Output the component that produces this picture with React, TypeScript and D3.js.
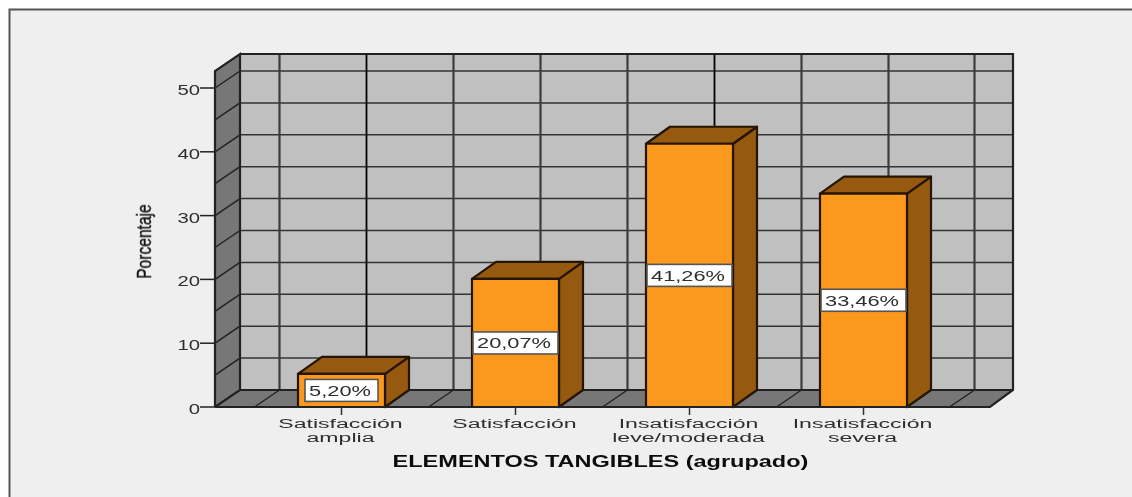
import React from "react";
import * as d3 from "d3";

const categories = [
  ["Satisfacción", "amplia"],
  ["Satisfacción"],
  ["Insatisfacción", "leve/moderada"],
  ["Insatisfacción", "severa"],
];
const values = [5.2, 20.07, 41.26, 33.46];
const valueLabels = ["5,20%", "20,07%", "41,26%", "33,46%"];
const yTicks = [0, 10, 20, 30, 40, 50];
const yGrid = [0, 5, 10, 15, 20, 25, 30, 35, 40, 45, 50];
const xTitle = "ELEMENTOS TANGIBLES (agrupado)";
const yTitle = "Porcentaje";

const W = 1132, H = 497;
const DX = 25, DY = 17;
const left = 215, right = 990, bottom = 407, backRight = 1013;
const FONT = "'Liberation Sans', Arial, sans-serif";

const y = d3.scaleLinear().domain([0, 50]).range([bottom, 88]);
const yTopValue = y.invert(71);
const top = y(yTopValue);
const x = d3.scaleBand<number>().domain(d3.range(categories.length)).range([left, right]).paddingInner(0.5).paddingOuter(0.477);
const bw = x.bandwidth();
const center = (i: number) => (x(i) as number) + bw / 2;

const pts = (p: number[][]) => p.map((q) => q.join(",")).join(" ");

const WALL = "#c0c0c0", SIDE = "#777777", BG = "#efefef", BAR = "#fa991e", BAR_D = "#955a10", TXT = "#2e2e2e";

const gridX: { px: number; major: boolean }[] = [];
categories.forEach((_, i) => {
  gridX.push({ px: center(i) + DX - bw, major: false });
  gridX.push({ px: center(i) + DX, major: i % 2 === 0 });
});
gridX.push({ px: center(categories.length - 1) + DX + bw - 1, major: false });

function Stretched({ tx, ty, sx, size, weight, fill, anchor, children }: any) {
  return (
    <text transform={`translate(${tx},${ty}) scale(${sx},1)`} textAnchor={anchor || "middle"} fontFamily={FONT} fontSize={size} fontWeight={weight} fill={fill}>
      {children}
    </text>
  );
}

export default function App() {
  return (
    <svg width={W} height={H} viewBox={`0 0 ${W} ${H}`} style={{ position: "absolute", left: 0, top: 0, display: "block" }}>
      <rect width={W} height={H} fill="#ffffff" />
      <rect x={9} y={9} width={W} height={H} fill={BG} />
      <path d={`M9.5,${H}V9.5H${W}`} fill="none" stroke="#555" strokeWidth={2} />
      <g style={{ filter: "blur(0.55px)" }}>
        {/* back wall */}
        <rect x={left + DX} y={top - DY} width={backRight - left - DX} height={bottom - top} fill={WALL} />
        {/* side wall */}
        <polygon points={pts([[left, bottom], [left, top], [left + DX, top - DY], [left + DX, bottom - DY]])} fill={SIDE} />
        {/* floor */}
        <polygon points={pts([[left, bottom], [right, bottom], [backRight, bottom - DY], [left + DX, bottom - DY]])} fill={SIDE} />

        {yGrid.map((v) => (
          <g key={v} stroke="#333" strokeWidth={1.5}>
            <line x1={left + DX} x2={backRight} y1={y(v) - DY} y2={y(v) - DY} />
            <line x1={left} x2={left + DX} y1={y(v)} y2={y(v) - DY} stroke="#222" />
          </g>
        ))}
        {gridX.map((g, i) => (
          <g key={i}>
            <line x1={g.px} x2={g.px} y1={top - DY} y2={bottom - DY} stroke={g.major ? "#000" : "#3c3c3c"} strokeWidth={g.major ? 1.8 : 2.2} />
            <line x1={g.px} x2={g.px - DX} y1={bottom - DY} y2={bottom} stroke="#222" strokeWidth={1.4} />
          </g>
        ))}
        {/* wall outlines */}
        <path d={`M${left},${bottom}V${top}L${left + DX},${top - DY}V${bottom - DY}L${left},${bottom}`} fill="none" stroke="#222" strokeWidth={2.2} />
        <path d={`M${left + DX},${top - DY}H${backRight}V${bottom - DY}L${right},${bottom}H${left}M${left + DX},${bottom - DY}H${backRight}`} fill="none" stroke="#222" strokeWidth={2.2} />

        {/* y axis */}
        {yTicks.map((t) => (
          <g key={t}>
            <line x1={left - 15} x2={left} y1={y(t)} y2={y(t)} stroke="#222" strokeWidth={1.5} />
            <Stretched tx={left - 15} ty={y(t) + 7} sx={1.45} size={14} fill={TXT} anchor="end">{t}</Stretched>
          </g>
        ))}
        <text transform={`translate(151,241.5) rotate(-90) scale(0.78,1)`} textAnchor="middle" fontFamily={FONT} fontSize={20} fill="#111" stroke="#111" strokeWidth={0.35}>
          {yTitle}
        </text>

        {/* bars */}
        {values.map((v, i) => {
          const x0 = x(i) as number, x1 = x0 + bw, yv = y(v);
          return (
            <g key={i} stroke="#241400" strokeWidth={2.2} strokeLinejoin="round">
              <polygon points={pts([[x1, bottom], [x1, yv], [x1 + DX - 1, yv - DY], [x1 + DX - 1, bottom - DY]])} fill={BAR_D} />
              <polygon points={pts([[x0, yv], [x1, yv], [x1 + DX - 1, yv - DY], [x0 + DX - 1, yv - DY]])} fill={BAR_D} />
              <rect x={x0} y={yv} width={bw} height={bottom - yv} fill={BAR} />
            </g>
          );
        })}
        <line x1={left} x2={right} y1={bottom} y2={bottom} stroke="#222" strokeWidth={2} />

        {/* value labels */}
        {values.map((v, i) => {
          const c = center(i), my = (y(v) + bottom) / 2;
          const w = valueLabels[i].length > 5 ? 85 : 73;
          return (
            <g key={i}>
              <rect x={c - w / 2} y={my - 11} width={w} height={22} fill="#fff" stroke="#555" strokeWidth={1.6} />
              <Stretched tx={c - 1.5} ty={my + 5.5} sx={1.56} size={14} fill={TXT}>{valueLabels[i]}</Stretched>
            </g>
          );
        })}

        {/* x axis */}
        {categories.map((lines, i) => (
          <g key={i}>
            <line x1={center(i)} x2={center(i)} y1={bottom} y2={bottom + 8} stroke="#333" strokeWidth={1.5} />
            {lines.map((l, k) => (
              <Stretched key={k} tx={center(i) - 1} ty={428 + k * 13.5} sx={1.71} size={13.5} fill={TXT}>{l}</Stretched>
            ))}
          </g>
        ))}
        <Stretched tx={600.5} ty={467} sx={1.47} size={16} weight="bold" fill="#0c0c0c">{xTitle}</Stretched>
      </g>
    </svg>
  );
}
